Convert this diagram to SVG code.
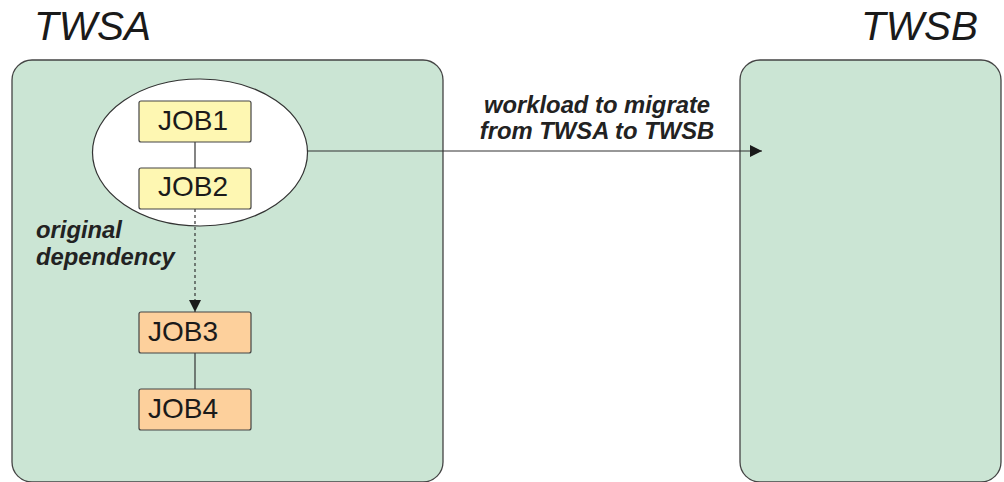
<svg xmlns="http://www.w3.org/2000/svg" width="1004" height="482" viewBox="0 0 1004 482">
  <defs>
    <style>
      .panel { fill: #cbe5d4; stroke: #444; stroke-width: 1.3; }
      .title { font-family: "Liberation Sans", Arial, sans-serif; font-style: italic; font-size: 40.5px; fill: #1a1a1a; }
      .label { font-family: "Liberation Sans", Arial, sans-serif; font-style: italic; font-weight: bold; font-size: 23.8px; fill: #222; }
      .job { stroke: #444; stroke-width: 1.2; }
      .job1 { fill: #fef7b2; }
      .job3 { fill: #fdd09c; }
      .jobtext { font-family: "Liberation Sans", Arial, sans-serif; font-size: 28px; fill: #1a1a1a; }
      .link { stroke: #333; stroke-width: 1.2; fill: none; }
      .dotted { stroke-dasharray: 3 3; }
    </style>
    <marker id="arrow" viewBox="0 0 12 12" refX="12" refY="6" markerWidth="12" markerHeight="12" markerUnits="userSpaceOnUse" orient="auto">
      <path d="M0,0 L12,6 L0,12 Z" fill="#1a1a1a"/>
    </marker>
  </defs>

  <g id="twsa">
    <rect class="panel" x="12" y="60" width="431" height="422" rx="20" ry="20"/>
    <text class="title" x="34" y="40">TWSA</text>
  </g>

  <g id="twsb">
    <rect class="panel" x="740" y="60" width="261" height="422" rx="20" ry="20"/>
    <text class="title" x="978" y="40" text-anchor="end">TWSB</text>
  </g>

  <g id="workload-group">
    <ellipse cx="200" cy="152.5" rx="107.5" ry="73.5" fill="#fff" stroke="#333" stroke-width="1.2"/>
  </g>

  <g id="connectors">
    <line class="link" x1="195" y1="142" x2="195" y2="168"/>
    <line class="link dotted" x1="195" y1="209" x2="195" y2="312" marker-end="url(#arrow)"/>
    <line class="link" x1="195" y1="353" x2="195" y2="389"/>
    <line class="link" x1="307.5" y1="151" x2="762" y2="151" marker-end="url(#arrow)"/>
  </g>

  <g id="job1">
    <rect class="job job1" x="139" y="101" width="112" height="41" rx="2"/>
    <text class="jobtext" x="193" y="130" text-anchor="middle">JOB1</text>
  </g>
  <g id="job2">
    <rect class="job job1" x="139" y="168" width="112" height="41" rx="2"/>
    <text class="jobtext" x="193" y="196" text-anchor="middle">JOB2</text>
  </g>
  <g id="job3">
    <rect class="job job3" x="139" y="312" width="112" height="41" rx="2"/>
    <text class="jobtext" x="148" y="341">JOB3</text>
  </g>
  <g id="job4">
    <rect class="job job3" x="139" y="389" width="112" height="41" rx="2"/>
    <text class="jobtext" x="148" y="418">JOB4</text>
  </g>

  <g id="labels">
    <text class="label" x="36" y="238">original</text>
    <text class="label" x="36" y="265">dependency</text>
    <text class="label" x="597" y="113" text-anchor="middle">workload to migrate</text>
    <text class="label" x="597" y="139" text-anchor="middle">from TWSA to TWSB</text>
  </g>
</svg>
